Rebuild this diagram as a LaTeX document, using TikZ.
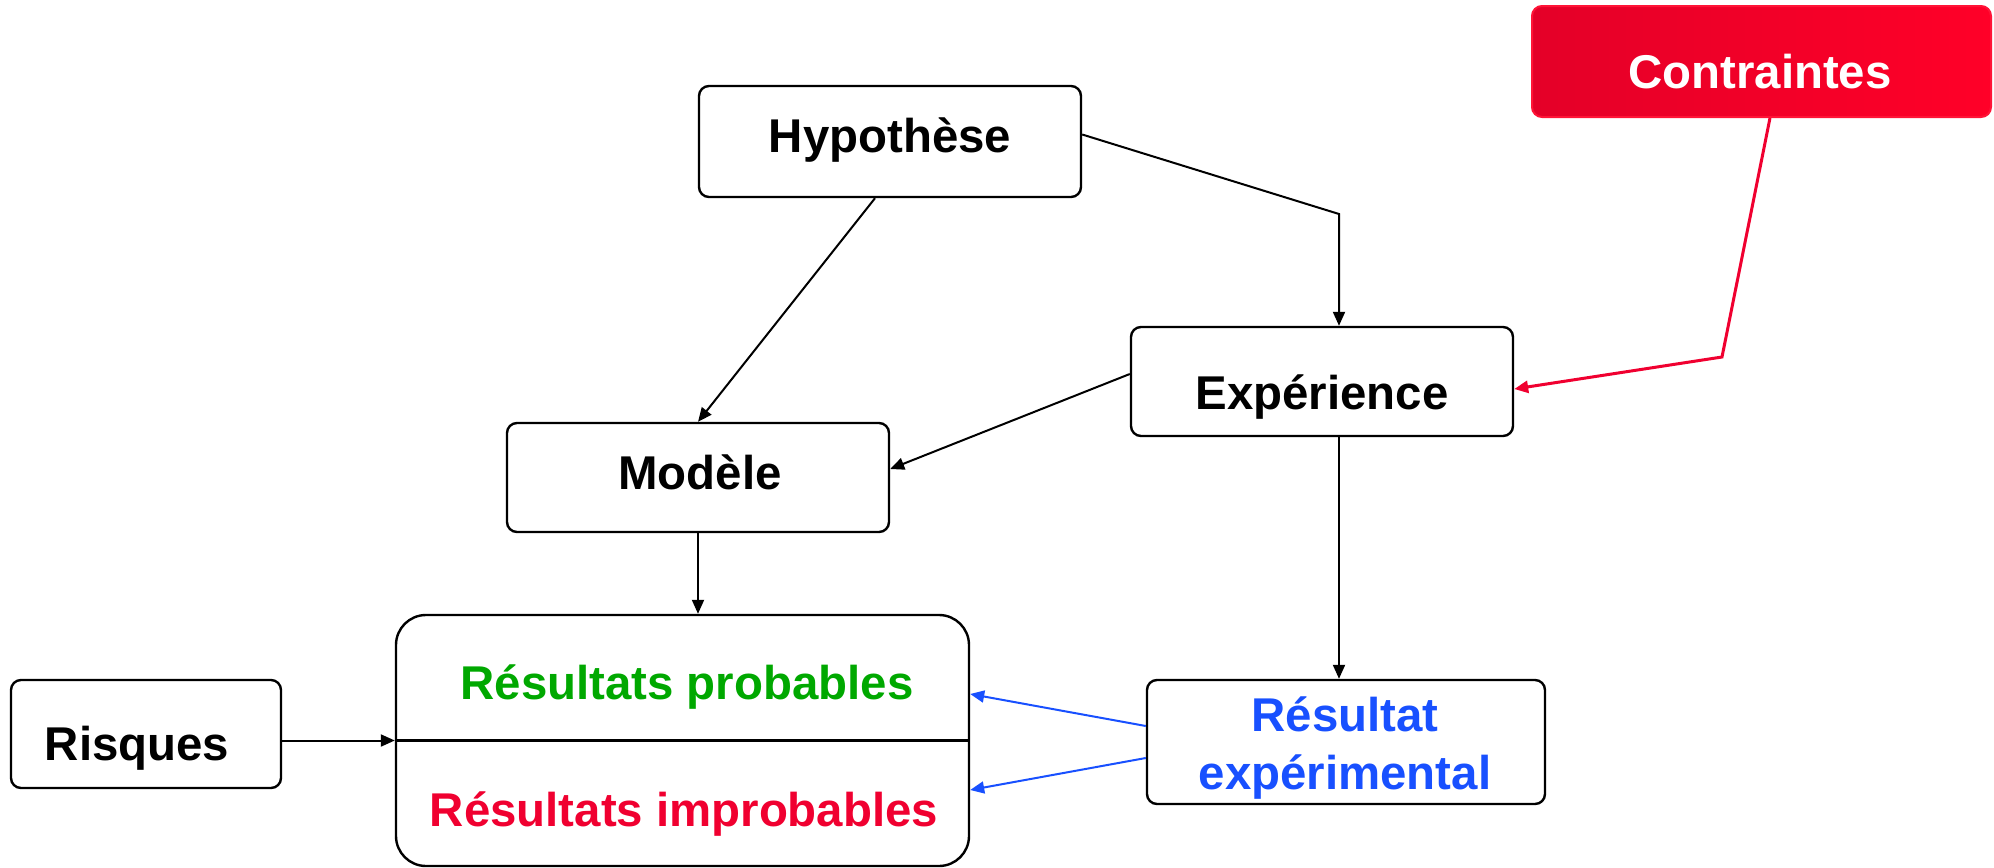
\documentclass[tikz,border=0pt]{standalone}
\usepackage{fontspec}
\setmainfont{Liberation Sans}
\usetikzlibrary{arrows.meta}
\definecolor{cgreen}{RGB}{0,168,0}
\definecolor{cred}{RGB}{240,0,48}
\definecolor{cblue}{RGB}{24,80,255}
\definecolor{conA}{RGB}{228,0,40}
\definecolor{conB}{RGB}{255,0,40}
\definecolor{conE}{RGB}{255,20,55}
\begin{document}
\begin{tikzpicture}[x=0.5pt,y=-0.5pt,
  lbl/.style={font=\fontsize{23.7}{29}\selectfont\bfseries},
  box/.style={draw=black,line width=1.2pt,rounded corners=5pt,inner sep=0pt,lbl},
  arr/.style={-{Triangle[length=7pt,width=6pt]},line width=1pt},
  barr/.style={arr,draw=cblue},
  rarr/.style={-{Triangle[length=7pt,width=6pt]},line width=1.5pt,draw=cred}]
\useasboundingbox (0,0) rectangle (1994,868);
% boxes
\node[box,minimum width=191pt,minimum height=55.5pt] (hyp) at (890,141.5) {};
\node[lbl] (hypt) at (890,140) {Hypothèse};
\node[box,minimum width=191pt,minimum height=54.5pt] (exp) at (1322,381.5) {};
\node[lbl] (expt) at (1322,397) {Expérience};
\node[box,minimum width=191pt,minimum height=54.5pt] (mod) at (698,477.5) {};
\node[lbl] (modt) at (700,472) {Modèle};
\node[box,rounded corners=15pt,minimum width=286.5pt,minimum height=125.5pt] (res) at (682.5,740.5) {};
\node[lbl,text=cgreen] (resp) at (687,687) {Résultats probables};
\node[lbl,text=cred] (resi) at (684,814) {Résultats improbables};
\node[box,minimum width=135pt,minimum height=54pt] (risk) at (146,734) {};
\node[lbl] (riskt) at (137,748) {Risques};
\node[box,minimum width=199pt,minimum height=62pt] (rexp) at (1346,742) {};
\node[lbl,text=cblue,align=center] (rexpt) at (1345,748) {Résultat\\expérimental};
\node[draw=conE,line width=1pt,rounded corners=5pt,left color=conA,right color=conB,
      minimum width=229.5pt,minimum height=55.5pt] (con) at (1761.5,61.5) {};
\node[lbl,text=white] (cont) at (1760,72) {Contraintes};
% coordinates
\coordinate (k1) at (1339,214);
\coordinate (k2) at (1722,357);
% connectors
\draw[arr] ([xshift=-7.5pt]hyp.south) -- (mod.north);
\draw[arr] ([yshift=3.5pt]hyp.east) -- (k1) -- (k1 |- exp.north);
\draw[arr] ([yshift=3.75pt]exp.west) -- ([yshift=4.25pt]mod.east);
\draw[arr] ([xshift=8.5pt]exp.south) -- ([xshift=8.5pt]exp.south |- rexp.north);
\draw[arr] (mod.south) -- (mod.south |- res.north);
\draw[arr] (res.west -| risk.east) -- (res.west);
\draw[line width=1.2pt] (res.west) -- (res.east);
\draw[rarr] ([xshift=4.25pt]con.south) -- (k2) -- ([yshift=-3.75pt]exp.east);
\draw[barr] ([yshift=8pt]rexp.west) -- ([yshift=23.25pt]res.east);
\draw[barr] ([yshift=-8pt]rexp.west) -- ([yshift=-24.75pt]res.east);
\end{tikzpicture}
\end{document}
